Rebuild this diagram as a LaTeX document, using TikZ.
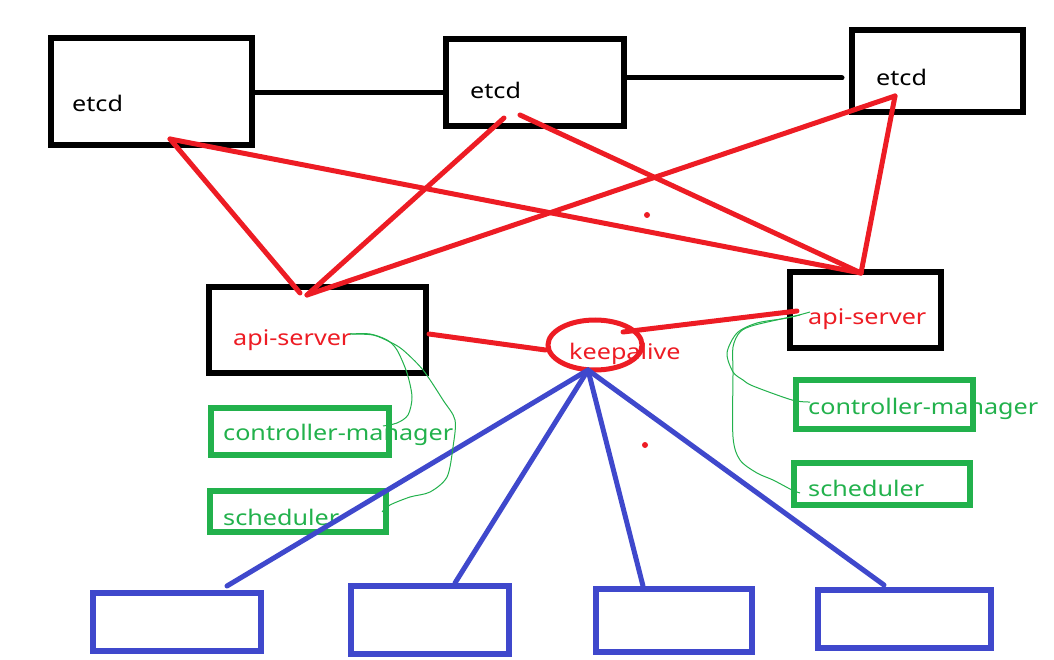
\documentclass[tikz,border=0pt]{standalone}
\usepackage{fontspec}
\setmainfont{Noto Sans}[FakeStretch=1.17]
\usetikzlibrary{shapes.geometric}
\definecolor{paintred}{RGB}{237,28,36}
\definecolor{paintgreen}{RGB}{34,177,76}
\definecolor{paintblue}{RGB}{63,72,204}

\begin{document}
\begin{tikzpicture}[x=1pt,y=-1pt,
    blackbox/.style={draw=black,line width=6pt,inner sep=0pt},
    greenbox/.style={draw=paintgreen,line width=6pt,inner sep=0pt},
    bluebox/.style={draw=paintblue,line width=6pt,inner sep=0pt},
    lbl/.style={anchor=west,inner sep=0pt,font=\fontsize{21.5}{24}\selectfont},
    redline/.style={draw=paintred,line width=5pt,line cap=round},
    blueline/.style={draw=paintblue,line width=5pt,line cap=round},
    wire/.style={draw=paintgreen,line width=1pt}]
  \useasboundingbox (0,0) rectangle (1054,660);
  %
  % Labels (the boxes are painted over them)
  \node[lbl] (etcdAtxt) at (72,103) {etcd};
  \node[lbl] (etcdBtxt) at (470,90) {etcd};
  \node[lbl] (etcdCtxt) at (876,77) {etcd};
  \node[lbl,text=paintred] (apiAtxt) at (233,340) {api-server};
  \node[lbl,text=paintred] (apiBtxt) at (808,319) {api-server};
  \node[lbl,text=paintred] (keeptxt) at (569,354) {keepalive};
  \node[lbl,text=paintgreen] (cmAtxt) at (223,435) {controller-manager};
  \node[lbl,text=paintgreen] (schedAtxt) at (223,517) {scheduler};
  \node[lbl,text=paintgreen] (cmBtxt) at (808,409) {controller-manager};
  \node[lbl,text=paintgreen] (schedBtxt) at (808,488) {scheduler};
  %
  % etcd boxes
  \node[blackbox,minimum width=201,minimum height=107] (etcdA) at (151.5,91.5) {};
  \node[blackbox,minimum width=178,minimum height=87] (etcdB) at (535,82.5) {};
  \node[blackbox,minimum width=171,minimum height=82] (etcdC) at (937.5,71) {};
  %
  % api-server boxes
  \node[blackbox,minimum width=217,minimum height=86] (apiA) at (317.5,330) {};
  \node[blackbox,minimum width=151,minimum height=76] (apiB) at (865.5,310) {};
  %
  % keepalive
  \node[ellipse,draw=paintred,line width=5pt,minimum width=94,minimum height=50,
    inner sep=0pt] (keep) at (595,345) {};
  %
  % controller-manager and scheduler
  \node[greenbox,minimum width=178,minimum height=47] (cmA) at (300,431.5) {};
  \node[greenbox,minimum width=176,minimum height=41] (schedA) at (298,511.5) {};
  \node[greenbox,minimum width=177,minimum height=49] (cmB) at (884.5,404.5) {};
  \node[greenbox,minimum width=176,minimum height=42] (schedB) at (882,484) {};
  %
  % Nodes at the bottom
  \node[bluebox,minimum width=168,minimum height=58] (nodeA) at (177,622) {};
  \node[bluebox,minimum width=158,minimum height=68] (nodeB) at (430,620) {};
  \node[bluebox,minimum width=156,minimum height=63] (nodeC) at (674,620.5) {};
  \node[bluebox,minimum width=173,minimum height=58] (nodeD) at (904.5,619) {};
  %
  % Line ends
  \coordinate (tipA) at (170,139);
  \coordinate (tipB) at (504,118);
  \coordinate (tipBB) at (520,115);
  \coordinate (tipC) at (895,96);
  \coordinate (apiAtop) at (300,293);
  \coordinate (apiAtopr) at (307,295);
  \coordinate (apiBtop) at (861,273);
  \coordinate (etcdCend) at (842,78);
  \coordinate (keepbot) at (588,370);
  %
  % etcd links
  \draw[line width=5pt,line cap=round] (etcdA.east |- 0,93) -- (etcdB.west |- 0,93);
  \draw[line width=5pt,line cap=round] (etcdB.east |- 0,78) -- (etcdCend);
  %
  % etcd to api-server
  \draw[redline] (tipA) -- (apiAtop);
  \draw[redline] (tipA) -- (apiBtop);
  \draw[redline] (tipB) -- (apiAtopr);
  \draw[redline] (tipBB) -- (apiBtop);
  \draw[redline] (tipC) -- (apiAtopr);
  \draw[redline] (tipC) -- (apiBtop);
  %
  % api-server to keepalive
  \draw[redline] (apiA.east |- 0,334) -- (keep.west |- 0,350);
  \draw[redline] (623,332) -- (797,311);
  %
  % keepalive to nodes
  \draw[blueline] (keepbot) -- (227,586);
  \draw[blueline] (keepbot) -- (455,583);
  \draw[blueline] (keepbot) -- (643,586);
  \draw[blueline] (keepbot) -- (884,585);
  %
  % Hand drawn wires
  \draw[wire] plot[smooth] coordinates {(350,334) (370,334) (387,340) (397,350)
    (407,373) (412,397) (408,415) (397,423) (383,426)};
  \draw[wire] plot[smooth] coordinates {(350,334) (373,335) (390,342) (403,350)
    (423,370) (443,400) (455,420) (453,447) (447,477) (430,492) (410,497)
    (390,505) (382,512)};
  \draw[wire] plot[smooth] coordinates {(810,312) (787,318) (757,323) (737,333)
    (727,353) (733,372) (743,380) (753,386) (792,400) (810,402)};
  \draw[wire] plot[smooth] coordinates {(800,315) (755,325) (740,332) (733,347)
    (733,373) (733,437) (740,460) (757,473) (773,480) (792,490) (800,493)};
  %
  % Dots
  \fill[paintred] (647,215) circle [radius=3];
  \fill[paintred] (645,445) circle [radius=3];
\end{tikzpicture}
\end{document}
